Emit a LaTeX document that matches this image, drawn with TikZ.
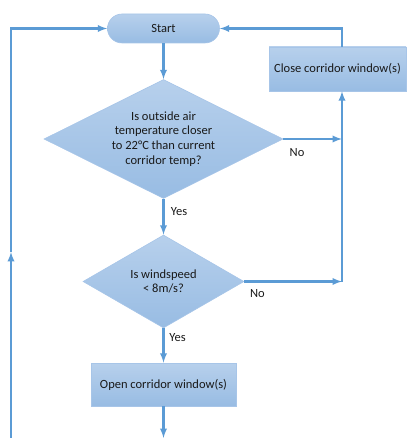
\documentclass[tikz,border=0pt]{standalone}
\usepackage{fontspec}
\setmainfont{Carlito}
\usepackage{tikz}
\usetikzlibrary{arrows,shapes}
\usetikzlibrary{calc}
\usepgflibrary{shapes.geometric}

\definecolor{flowblue}{HTML}{5B9BD5}
\definecolor{boxtop}{HTML}{B7D0EC}
\definecolor{boxbot}{HTML}{98BCE3}
\definecolor{boxedge}{HTML}{A7C5E8}

\tikzset{
	box/.style={draw=boxedge, line width=0.6pt, top color=boxtop, bottom color=boxbot, align=center, inner sep=0pt},
	decision/.style={box, diamond, aspect=2},
	flow/.style={draw=flowblue, line width=2.2pt, -latex},
	answer/.style={font=\fontsize{12.5}{14}\selectfont}
}

\begin{document}
\begin{tikzpicture}[x=1pt, y=-1pt, font=\fontsize{12.5}{14.7}\selectfont, text=black!90]

	\useasboundingbox (0,0) rectangle (407,438);

	\node[box, rounded corners=14.5pt, minimum width=112pt, minimum height=29pt] (start) at (163.5,28.5) {Start};
	\node[box, minimum width=137pt, minimum height=44pt] (close) at (337.5,69) {Close corridor window(s)};
	\node[decision, minimum width=239pt, minimum height=119pt] (temp) at (163.5,139)
		{Is outside air\\temperature closer\\to 22°C than current\\corridor temp?};
	\node[decision, minimum width=161pt, minimum height=93pt] (wind) at (163.5,281.5)
		{Is windspeed\\< 8m/s?};
	\node[box, minimum width=145pt, minimum height=43pt] (open) at (163.5,384.5) {Open corridor window(s)};

	\coordinate (rx) at (342,0);
	\coordinate (lb) at (11,438);
	\coordinate (lm) at (11,252);
	\coordinate (ob) at (163.5,438);

	% main line down
	\draw[flow] (start) -- (temp);
	\draw[flow] (temp) -- (wind);
	\draw[flow] (wind) -- (open);
	\draw[flow] (open) -- (ob);

	% no branches
	\draw[flow] (temp.east) -- (temp.east -| rx);
	\draw[flow] (wind.east) -- (wind.east -| rx);
	\draw[flow] (wind.east -| rx) -- (close.south -| rx);
	\draw[flow] (close.north -| rx) -- (start.east -| rx) -- (start.east);

	% loop back on the left
	\draw[flow] (lb) -- (lm);
	\draw[flow] (lm) -- (start.west -| lm) -- (start.west);

	\node[answer] (no1) at (297,153) {No};
	\node[answer] (yes1) at (179,211.5) {Yes};
	\node[answer] (no2) at (257.5,294) {No};
	\node[answer] (yes2) at (177.5,338) {Yes};

\end{tikzpicture}
\end{document}
